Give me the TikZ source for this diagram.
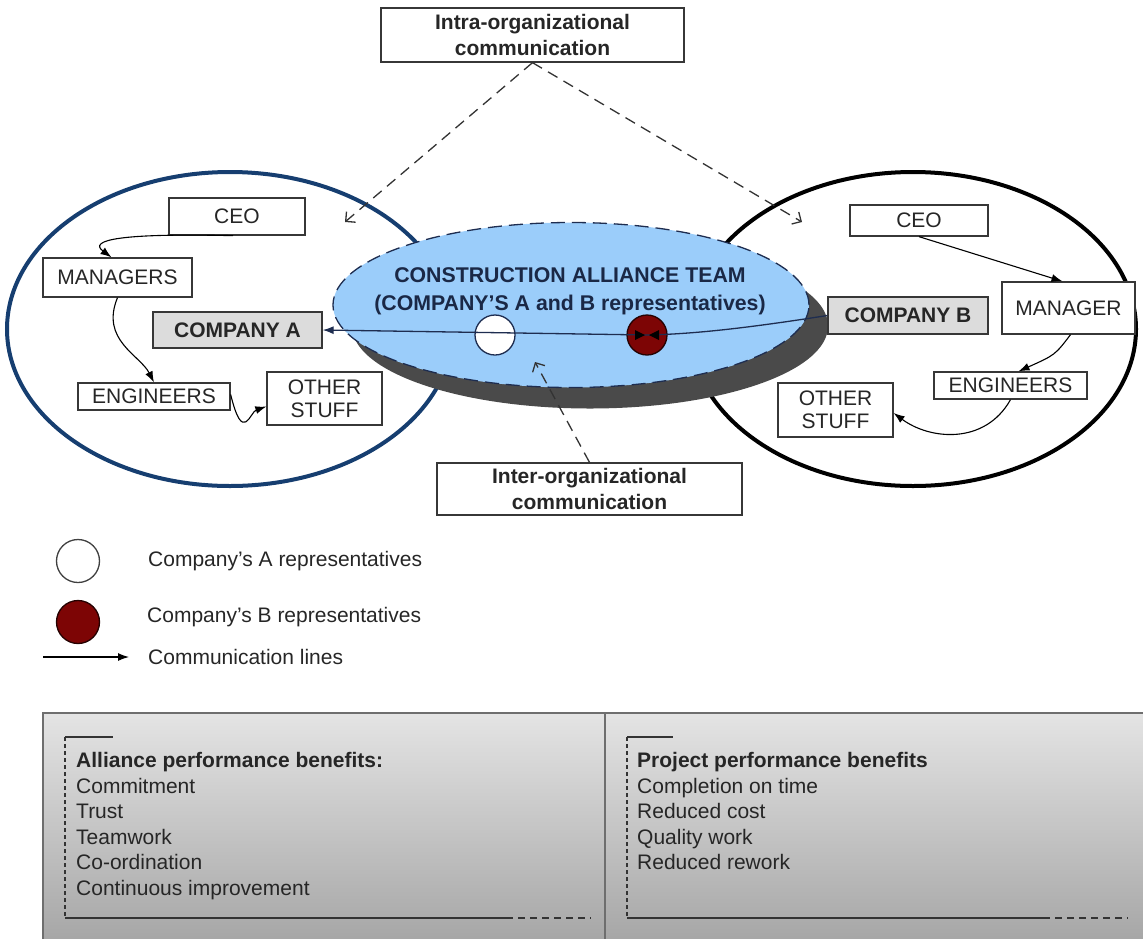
\documentclass[tikz,border=0pt]{standalone}
\usepackage{fontspec}
\setmainfont{Liberation Sans}
\usetikzlibrary{arrows.meta,shapes.geometric,calc}
\definecolor{orgblue}{RGB}{22,62,112}
\definecolor{teamblue}{RGB}{155,205,250}
\definecolor{teamline}{RGB}{30,45,80}
\definecolor{teamtext}{RGB}{26,40,70}
\definecolor{shadowgray}{RGB}{74,74,74}
\definecolor{repred}{RGB}{125,5,5}
\definecolor{boxline}{RGB}{55,55,55}
\definecolor{boxgray}{RGB}{220,220,220}
\definecolor{panelTop}{RGB}{228,228,228}
\definecolor{panelBot}{RGB}{165,165,165}
\definecolor{panelLine}{RGB}{110,110,110}
\begin{document}
\begin{tikzpicture}[x=1pt,y=-1pt,
  txt/.style={font=\fontsize{21}{24}\selectfont, text=black!85, inner sep=0pt},
  box/.style={draw=boxline, line width=1.3pt, fill=white, inner sep=0pt, align=center,
    font=\fontsize{21}{23}\selectfont, text=black!85},
  cbox/.style={box, fill=boxgray, font=\bfseries\fontsize{21}{23}\selectfont},
  flow/.style={draw=black, line width=1.1pt, -{Latex[length=11pt,width=8pt]}},
  dasharrow/.style={draw=black!80, line width=1.3pt, dash pattern=on 11pt off 7pt,
    -{Straight Barb[length=7pt,width=14pt]}},
  orgell/.style={ellipse, inner sep=0pt, line width=4pt, minimum width=446pt, minimum height=314pt},
  teamell/.style={ellipse, inner sep=0pt, minimum width=476pt, minimum height=165pt},
  rep/.style={circle, inner sep=0pt, minimum size=40pt, line width=1.3pt},
]
\useasboundingbox (0,0) rectangle (1143,938);

% organisation ellipses
\node[orgell, draw=orgblue] (orgA) at (230,329) {};
\node[orgell, draw=black] (orgB) at (913,329) {};

% alliance team
\node[teamell, fill=shadowgray] (teamshadow) at (590,326) {};
\node[teamell, fill=teamblue, draw=teamline, line width=1.3pt, dash pattern=on 14pt off 7pt] (team) at (571,305) {};
\node[align=center, text=teamtext, font=\bfseries\fontsize{21.3}{28}\selectfont] (teamtxt) at (570,291)
  {CONSTRUCTION ALLIANCE TEAM\\(COMPANY'S A and B representatives)};

% representatives
\node[rep, draw=teamline, fill=white] (repA) at (495,335) {};
\node[rep, draw=black!70!repred, fill=repred] (repB) at (647,335) {};

% boxes, company A
\node[box, minimum width=136pt, minimum height=37pt] (ceoA) at (237,216.5) {CEO};
\node[box, minimum width=149pt, minimum height=39pt] (manA) at (117.5,277.5) {MANAGERS};
\node[cbox, minimum width=169pt, minimum height=36pt] (compA) at (237.5,330) {COMPANY A};
\node[box, minimum width=152pt, minimum height=27pt] (engA) at (154,396.5) {ENGINEERS};
\node[box, minimum width=115pt, minimum height=53pt] (othA) at (324.5,398.5) {OTHER\\STUFF};

% boxes, company B
\node[box, minimum width=138pt, minimum height=31pt] (ceoB) at (919,220.5) {CEO};
\node[box, minimum width=133pt, minimum height=52pt] (manB) at (1068.5,308) {MANAGER};
\node[cbox, minimum width=160pt, minimum height=37pt] (compB) at (908,315.5) {COMPANY B};
\node[box, minimum width=153pt, minimum height=27pt] (engB) at (1010.5,385.5) {ENGINEERS};
\node[box, minimum width=115pt, minimum height=54pt] (othB) at (835.5,410) {OTHER\\STUFF};

% communication line across the team
\draw[draw=teamline, line width=1.3pt] (compB.west) .. controls (760,326) and (700,334) .. (repB.center);
\draw[draw=teamline, line width=1.3pt, -{Latex[length=11pt,width=8pt]}] (repB.center) -- (compA.east);
\fill[black] ($(repB.center)+(-2,0)$) -- ($(repB.center)+(-12,-5)$) -- ($(repB.center)+(-12,5)$) -- cycle;
\fill[black] ($(repB.center)+(2,0)$) -- ($(repB.center)+(12,-5)$) -- ($(repB.center)+(12,5)$) -- cycle;

% flows inside company A
\draw[flow] ([xshift=-4pt]ceoA.south) .. controls (120,233) and (88,240) .. ([xshift=-6pt]manA.north);
\draw[flow] (manA.south) .. controls (100,340) and (140,355) .. (engA.north);
\draw[flow] ([yshift=2pt]engA.east) .. controls (243,445) and (250,412) .. ([yshift=-8pt]othA.west);

% flows inside company B
\draw[flow] (ceoB.south) -- ([xshift=-6pt]manB.north);
\draw[flow] ([xshift=2pt]manB.south) .. controls (1055,355) .. ([xshift=8pt]engB.north);
\draw[flow] (engB.south) .. controls (985,445) and (930,440) .. ([yshift=-3pt]othB.east);

% intra / inter organisational communication
\node[box, minimum width=303pt, minimum height=54pt, font=\bfseries\fontsize{21}{26}\selectfont] (intra) at (532.5,35)
  {Intra-organizational\\communication};
\node[box, minimum width=305pt, minimum height=52pt, font=\bfseries\fontsize{21}{26}\selectfont] (inter) at (589.5,489)
  {Inter-organizational\\communication};
\coordinate (intraTipA) at (345,222);
\coordinate (intraTipB) at (802,222);
\coordinate (interTip) at (535,362);
\draw[dasharrow] (intra.south) -- (intraTipA);
\draw[dasharrow] (intra.south) -- (intraTipB);
\draw[dasharrow] (inter.north) -- (interTip);

% legend
\node[rep, draw=black!75, fill=white, minimum size=43pt] (legA) at (78,561) {};
\node[rep, draw=black!70!repred, fill=repred, minimum size=43pt] (legB) at (78,622) {};
\node[txt, anchor=west] (legAtxt) at (148,561) {Company's A representatives};
\node[txt, anchor=west] (legBtxt) at (147,617) {Company's B representatives};
\node[txt, anchor=west] (legCtxt) at (148,657) {Communication lines};
\coordinate (legS) at (43,657);
\draw[flow, shorten >=19pt] (legS) -- (legCtxt.west);

% benefit panels
\shade[top color=panelTop, bottom color=panelBot, draw=panelLine, line width=1.5pt] (43,713) rectangle (605,945);
\shade[top color=panelTop, bottom color=panelBot, draw=panelLine, line width=1.5pt] (605,713) rectangle (1150,945);

\draw[line width=1.5pt, black!80] (65,737) -- (113,737);
\draw[line width=1.3pt, black!80, dash pattern=on 4pt off 3pt] (65,737) -- (65,918);
\draw[line width=1.5pt, black!80] (65,918) -- (506,918);
\draw[line width=1.5pt, black!80, dash pattern=on 7pt off 5pt] (506,918) -- (591,918);

\draw[line width=1.5pt, black!80] (627,737) -- (673,737);
\draw[line width=1.3pt, black!80, dash pattern=on 4pt off 3pt] (627,737) -- (627,918);
\draw[line width=1.5pt, black!80] (627,918) -- (1043,918);
\draw[line width=1.5pt, black!80, dash pattern=on 7pt off 5pt] (1043,918) -- (1128,918);

\node[txt, anchor=base west, font=\bfseries\fontsize{21}{24}\selectfont] (alH) at (76,767.5) {Alliance performance benefits:};
\foreach \t [count=\i] in {Commitment, Trust, Teamwork, Co-ordination, Continuous improvement}
  \node[txt, anchor=base west] (al\i) at (76,{767.5+25.5*\i}) {\t};

\node[txt, anchor=base west, font=\bfseries\fontsize{21}{24}\selectfont] (prH) at (637,767.5) {Project performance benefits};
\foreach \t [count=\i] in {Completion on time, Reduced cost, Quality work, Reduced rework}
  \node[txt, anchor=base west] (pr\i) at (637,{767.5+25.5*\i}) {\t};
\end{tikzpicture}
\end{document}
